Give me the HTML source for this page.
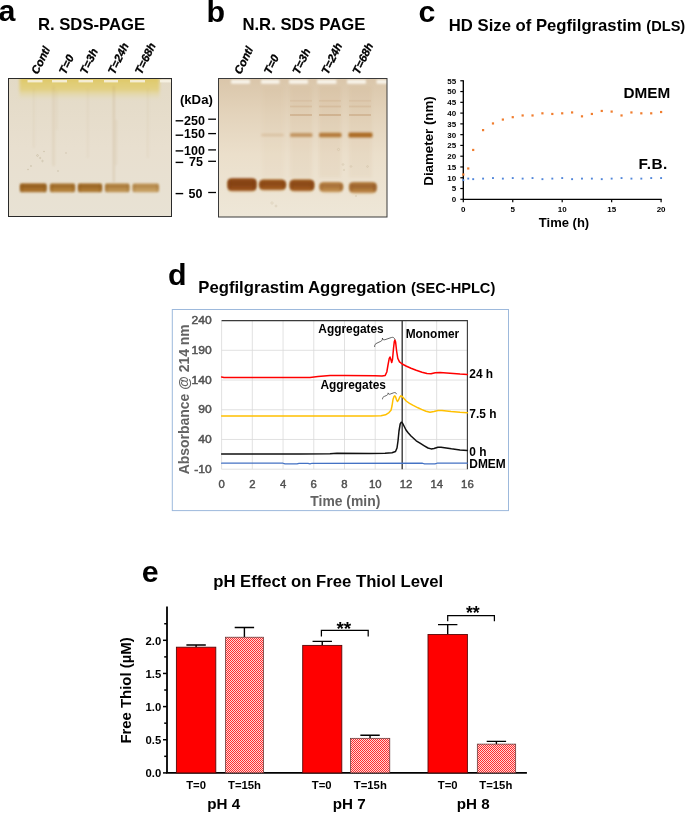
<!DOCTYPE html>
<html lang="en">
<head>
<meta charset="utf-8">
<title>Pegfilgrastim figure</title>
<style>
html,body{margin:0;padding:0;background:#fff;}
body{width:685px;height:813px;overflow:hidden;position:relative;}
svg{position:absolute;left:0;top:0;display:block;}
text{font-family:"Liberation Sans",sans-serif;font-weight:bold;}
.lbl{font-size:30.4px;}
.ttl{font-size:16.7px;}
.lane{font-size:11.3px;font-style:italic;stroke:#000;stroke-width:0.3px;}
.kda{font-size:12.5px;}
.ct{font-size:8px;}
.gr{fill:#595959;}
.reg{font-weight:normal;}
</style>
</head>
<body>
<svg width="685" height="813" viewBox="0 0 685 813">
<defs>
<filter id="b1" x="-150%" y="-100%" width="400%" height="300%"><feGaussianBlur stdDeviation="0.9"/></filter>
<filter id="b2" x="-150%" y="-100%" width="400%" height="300%"><feGaussianBlur stdDeviation="1.6"/></filter>
<filter id="b3" x="-150%" y="-100%" width="400%" height="300%"><feGaussianBlur stdDeviation="3"/></filter>
<filter id="b05" x="-150%" y="-100%" width="400%" height="300%"><feGaussianBlur stdDeviation="0.5"/></filter>
<linearGradient id="gA" x1="0" y1="0" x2="0" y2="1">
<stop offset="0" stop-color="#e3dac6"/><stop offset="0.5" stop-color="#e8dfcf"/><stop offset="1" stop-color="#e8e2d4"/>
</linearGradient>
<linearGradient id="gB" x1="0" y1="0" x2="0" y2="1">
<stop offset="0" stop-color="#dac6aa"/><stop offset="0.25" stop-color="#e3d3bb"/><stop offset="0.55" stop-color="#ebdfcb"/><stop offset="1" stop-color="#eee7d8"/>
</linearGradient>
<linearGradient id="gY" x1="0" y1="0" x2="0" y2="1">
<stop offset="0" stop-color="#dfc864"/><stop offset="0.55" stop-color="#e2cf7c" stop-opacity="0.9"/><stop offset="1" stop-color="#e6dcae" stop-opacity="0"/>
</linearGradient>
<pattern id="hatch" x="0" y="0" width="2" height="2" patternUnits="userSpaceOnUse">
<rect x="0" y="0" width="2" height="2" fill="#ffd6d6"/><rect x="0" y="0" width="1" height="1" fill="#ff2c2c"/><rect x="1" y="1" width="1" height="1" fill="#ff2c2c"/>
</pattern>
<clipPath id="cA"><rect x="8.5" y="78.5" width="163" height="138"/></clipPath>
<clipPath id="cB"><rect x="218.5" y="78.5" width="168.5" height="138.5"/></clipPath>
</defs>
<rect x="0" y="0" width="685" height="813" fill="#fff"/>
<g id="panel-a">
<text class="lbl" x="-1.6" y="21">a</text>
<text class="ttl" x="37.9" y="29.8">R. SDS-PAGE</text>
<text class="lane" transform="translate(37.8,74.9) rotate(-64)">Contl</text>
<text class="lane" transform="translate(65.5,74.9) rotate(-64)">T=0</text>
<text class="lane" transform="translate(86.5,74.9) rotate(-64)">T=3h</text>
<text class="lane" transform="translate(114.5,74.9) rotate(-64)">T=24h</text>
<text class="lane" transform="translate(141.5,74.9) rotate(-64)">T=68h</text>
<rect x="8.5" y="78.5" width="163" height="138" fill="url(#gA)"/>
<g clip-path="url(#cA)">
<rect x="19.5" y="77" width="140" height="23" fill="url(#gY)" filter="url(#b2)"/>
<rect x="27.5" y="80" width="15" height="2.4" fill="#f8f4e6" opacity="0.85" filter="url(#b05)"/>
<rect x="52" y="80" width="15" height="2.4" fill="#f8f4e6" opacity="0.85" filter="url(#b05)"/>
<rect x="78.5" y="80" width="14.5" height="2.4" fill="#f8f4e6" opacity="0.85" filter="url(#b05)"/>
<rect x="104" y="80" width="14" height="2.4" fill="#f8f4e6" opacity="0.85" filter="url(#b05)"/>
<rect x="130" y="80" width="15" height="2.4" fill="#f8f4e6" opacity="0.85" filter="url(#b05)"/>
<rect x="160" y="80" width="12" height="2.4" fill="#f8f4e6" opacity="0.85" filter="url(#b05)"/>
<rect x="33" y="88" width="1.6" height="60" fill="#a8824a" opacity="0.08" filter="url(#b1)"/>
<rect x="52.5" y="86" width="2.2" height="80" fill="#a8824a" opacity="0.13" filter="url(#b1)"/>
<rect x="56" y="90" width="1.4" height="40" fill="#a8824a" opacity="0.07" filter="url(#b1)"/>
<rect x="87" y="88" width="1.6" height="70" fill="#a8824a" opacity="0.07" filter="url(#b1)"/>
<rect x="113" y="86" width="1.6" height="96" fill="#a8824a" opacity="0.22" filter="url(#b1)"/>
<rect x="115.5" y="120" width="1.4" height="45" fill="#a8824a" opacity="0.12" filter="url(#b1)"/>
<rect x="147" y="88" width="1.6" height="70" fill="#a8824a" opacity="0.08" filter="url(#b1)"/>
<circle cx="37.5" cy="155.5" r="0.9" fill="none" stroke="#9a8a66" stroke-width="0.4" opacity="0.55"/><circle cx="40.2" cy="158" r="0.7" fill="none" stroke="#9a8a66" stroke-width="0.4" opacity="0.55"/><circle cx="42.5" cy="161" r="0.8" fill="none" stroke="#9a8a66" stroke-width="0.4" opacity="0.55"/><circle cx="31" cy="166" r="0.6" fill="none" stroke="#9a8a66" stroke-width="0.4" opacity="0.55"/><circle cx="28" cy="169.5" r="0.5" fill="none" stroke="#9a8a66" stroke-width="0.4" opacity="0.55"/><circle cx="58" cy="171" r="0.5" fill="none" stroke="#9a8a66" stroke-width="0.4" opacity="0.55"/><circle cx="44" cy="151.5" r="0.5" fill="none" stroke="#9a8a66" stroke-width="0.4" opacity="0.55"/><circle cx="66" cy="153" r="0.4" fill="none" stroke="#9a8a66" stroke-width="0.4" opacity="0.55"/>
<rect x="20" y="183.4" width="26.5" height="8.8" rx="3" fill="#a9722d" opacity="1.0" filter="url(#b1)"/>
<rect x="21" y="184.3" width="24.5" height="4" rx="1.5" fill="#8a5518" opacity="0.55" filter="url(#b1)"/>
<rect x="20.3" y="183.6" width="2.2" height="8.6" rx="1" fill="#8a5518" opacity="0.55" filter="url(#b1)"/>
<rect x="44" y="183.6" width="2.2" height="8.6" rx="1" fill="#8a5518" opacity="0.55" filter="url(#b1)"/>
<rect x="50" y="183.4" width="25" height="8.8" rx="3" fill="#b27f38" opacity="0.97" filter="url(#b1)"/>
<rect x="51" y="184.3" width="23" height="4" rx="1.5" fill="#8a5518" opacity="0.42" filter="url(#b1)"/>
<rect x="50.3" y="183.6" width="2.2" height="8.6" rx="1" fill="#8a5518" opacity="0.42" filter="url(#b1)"/>
<rect x="72.5" y="183.6" width="2.2" height="8.6" rx="1" fill="#8a5518" opacity="0.42" filter="url(#b1)"/>
<rect x="78" y="183.4" width="24" height="8.8" rx="3" fill="#ad7832" opacity="0.98" filter="url(#b1)"/>
<rect x="79" y="184.3" width="22" height="4" rx="1.5" fill="#8a5518" opacity="0.48" filter="url(#b1)"/>
<rect x="78.3" y="183.6" width="2.2" height="8.6" rx="1" fill="#8a5518" opacity="0.48" filter="url(#b1)"/>
<rect x="99.5" y="183.6" width="2.2" height="8.6" rx="1" fill="#8a5518" opacity="0.48" filter="url(#b1)"/>
<rect x="105" y="183.4" width="24.5" height="8.8" rx="3" fill="#bb8d49" opacity="0.93" filter="url(#b1)"/>
<rect x="106" y="184.3" width="22.5" height="4" rx="1.5" fill="#8a5518" opacity="0.32" filter="url(#b1)"/>
<rect x="105.3" y="183.6" width="2.2" height="8.6" rx="1" fill="#8a5518" opacity="0.32" filter="url(#b1)"/>
<rect x="127" y="183.6" width="2.2" height="8.6" rx="1" fill="#8a5518" opacity="0.32" filter="url(#b1)"/>
<rect x="132.5" y="183.4" width="26.5" height="8.8" rx="3" fill="#c39856" opacity="0.9" filter="url(#b1)"/>
<rect x="133.5" y="184.3" width="24.5" height="4" rx="1.5" fill="#8a5518" opacity="0.25" filter="url(#b1)"/>
<rect x="132.8" y="183.6" width="2.2" height="8.6" rx="1" fill="#8a5518" opacity="0.25" filter="url(#b1)"/>
<rect x="156.5" y="183.6" width="2.2" height="8.6" rx="1" fill="#8a5518" opacity="0.25" filter="url(#b1)"/>
</g>
<rect x="8.5" y="78.5" width="163" height="138" fill="none" stroke="#2a2a2a" stroke-width="1"/>
<text class="kda" style="font-size:13.2px" x="179.9" y="103.5">(kDa)</text>
<text class="kda" x="184" y="125.3">250</text>
<rect x="175.6" y="120.1" width="7.6" height="1.4" fill="#000"/>
<rect x="208.2" y="118.55" width="7.8" height="1.3" fill="#000"/>
<text class="kda" x="184" y="137.7">150</text>
<rect x="175.6" y="134.5" width="7.6" height="1.4" fill="#000"/>
<rect x="208.2" y="132.95" width="7.8" height="1.3" fill="#000"/>
<text class="kda" x="184" y="154.9">100</text>
<rect x="175.6" y="150.2" width="7.6" height="1.4" fill="#000"/>
<rect x="208.2" y="149.25" width="7.8" height="1.3" fill="#000"/>
<text class="kda" x="189" y="166.4">75</text>
<rect x="175.6" y="161.7" width="7.6" height="1.4" fill="#000"/>
<rect x="208.2" y="160.65" width="7.8" height="1.3" fill="#000"/>
<text class="kda" x="188.5" y="198.4">50</text>
<rect x="175.6" y="192.9" width="7.6" height="1.4" fill="#000"/>
<rect x="208.2" y="191.85" width="7.8" height="1.3" fill="#000"/>
</g>
<g id="panel-b">
<text class="lbl" x="206.6" y="21.7">b</text>
<text class="ttl" x="242.4" y="30.4">N.R. SDS PAGE</text>
<text class="lane" transform="translate(240.8,74.9) rotate(-64)">Contl</text>
<text class="lane" transform="translate(270.5,74.9) rotate(-64)">T=0</text>
<text class="lane" transform="translate(299,74.9) rotate(-64)">T=3h</text>
<text class="lane" transform="translate(328,74.9) rotate(-64)">T=24h</text>
<text class="lane" transform="translate(359,74.9) rotate(-64)">T=68h</text>
<rect x="218.5" y="78.5" width="168.5" height="138.5" fill="url(#gB)"/>
<g clip-path="url(#cB)">
<rect x="231" y="79.8" width="19" height="4" rx="1" fill="#f8f4ea" filter="url(#b1)"/>
<rect x="261" y="79.8" width="18.5" height="4" rx="1" fill="#f8f4ea" filter="url(#b1)"/>
<rect x="289" y="79.8" width="19" height="4" rx="1" fill="#f8f4ea" filter="url(#b1)"/>
<rect x="317" y="79.8" width="19.5" height="4" rx="1" fill="#f8f4ea" filter="url(#b1)"/>
<rect x="347" y="79.8" width="19" height="4" rx="1" fill="#f8f4ea" filter="url(#b1)"/>
<rect x="376.5" y="79.8" width="11.5" height="4" rx="1" fill="#f8f4ea" filter="url(#b1)"/>
<rect x="262" y="86" width="22" height="92" fill="#b98a55" opacity="0.03" filter="url(#b2)"/>
<rect x="290" y="86" width="22" height="92" fill="#b98a55" opacity="0.06" filter="url(#b2)"/>
<rect x="319" y="86" width="22" height="92" fill="#b98a55" opacity="0.07" filter="url(#b2)"/>
<rect x="349" y="86" width="23" height="92" fill="#b98a55" opacity="0.06" filter="url(#b2)"/>
<circle cx="338.5" cy="149.5" r="1.1" fill="none" stroke="#b9a888" stroke-width="0.4" opacity="0.6"/><circle cx="343" cy="164.5" r="0.9" fill="none" stroke="#b9a888" stroke-width="0.4" opacity="0.6"/><circle cx="351" cy="166.5" r="0.9" fill="none" stroke="#b9a888" stroke-width="0.4" opacity="0.6"/><circle cx="367.5" cy="166.5" r="0.9" fill="none" stroke="#b9a888" stroke-width="0.4" opacity="0.6"/><circle cx="344" cy="170" r="0.7" fill="none" stroke="#b9a888" stroke-width="0.4" opacity="0.6"/><circle cx="272" cy="203" r="1.2" fill="none" stroke="#b9a888" stroke-width="0.4" opacity="0.6"/><circle cx="276" cy="206" r="1.0" fill="none" stroke="#b9a888" stroke-width="0.4" opacity="0.6"/><circle cx="356" cy="196" r="0.7" fill="none" stroke="#b9a888" stroke-width="0.4" opacity="0.6"/>
<rect x="228.4" y="186.8" width="27.1" height="5" rx="4.5" fill="#cfa566" opacity="0.55" filter="url(#b2)"/>
<rect x="227.4" y="178.2" width="29.1" height="12.6" rx="4.5" fill="#96501a" opacity="1.0" filter="url(#b1)"/>
<rect x="229.4" y="180.2" width="25.1" height="6.6" rx="2.5" fill="#7a3a0a" opacity="0.6" filter="url(#b2)"/>
<rect x="252.9" y="179.4" width="3" height="10.2" rx="1.5" fill="#7a3a0a" opacity="0.6" filter="url(#b1)"/>
<rect x="228" y="179.4" width="3" height="10.2" rx="1.5" fill="#7a3a0a" opacity="0.42" filter="url(#b1)"/>
<rect x="260" y="185.8" width="25" height="5" rx="4.5" fill="#cfa566" opacity="0.55" filter="url(#b2)"/>
<rect x="259" y="179.6" width="27" height="10.2" rx="4.5" fill="#9c571c" opacity="0.98" filter="url(#b1)"/>
<rect x="261" y="181.6" width="23" height="4.2" rx="2.5" fill="#7a3a0a" opacity="0.52" filter="url(#b2)"/>
<rect x="282.4" y="180.8" width="3" height="7.8" rx="1.5" fill="#7a3a0a" opacity="0.52" filter="url(#b1)"/>
<rect x="259.6" y="180.8" width="3" height="7.8" rx="1.5" fill="#7a3a0a" opacity="0.364" filter="url(#b1)"/>
<rect x="290.5" y="186.8" width="22.8" height="5" rx="4.5" fill="#cfa566" opacity="0.55" filter="url(#b2)"/>
<rect x="289.5" y="179.6" width="24.8" height="11.2" rx="4.5" fill="#9c571c" opacity="0.97" filter="url(#b1)"/>
<rect x="291.5" y="181.6" width="20.8" height="5.2" rx="2.5" fill="#7a3a0a" opacity="0.52" filter="url(#b2)"/>
<rect x="310.7" y="180.8" width="3" height="8.8" rx="1.5" fill="#7a3a0a" opacity="0.52" filter="url(#b1)"/>
<rect x="290.1" y="180.8" width="3" height="8.8" rx="1.5" fill="#7a3a0a" opacity="0.364" filter="url(#b1)"/>
<rect x="320.2" y="187.6" width="22.1" height="5" rx="4.5" fill="#cfa566" opacity="0.55" filter="url(#b2)"/>
<rect x="319.2" y="182" width="24.1" height="9.6" rx="4.5" fill="#b98445" opacity="0.95" filter="url(#b1)"/>
<rect x="321.2" y="184" width="20.1" height="3.6" rx="2.5" fill="#7a3a0a" opacity="0.32" filter="url(#b2)"/>
<rect x="339.7" y="183.2" width="3" height="7.2" rx="1.5" fill="#7a3a0a" opacity="0.32" filter="url(#b1)"/>
<rect x="319.8" y="183.2" width="3" height="7.2" rx="1.5" fill="#7a3a0a" opacity="0.22399999999999998" filter="url(#b1)"/>
<rect x="350" y="188.6" width="25.8" height="5" rx="4.5" fill="#cfa566" opacity="0.55" filter="url(#b2)"/>
<rect x="349" y="182" width="27.8" height="10.6" rx="4.5" fill="#b37b3c" opacity="0.96" filter="url(#b1)"/>
<rect x="351" y="184" width="23.8" height="4.6" rx="2.5" fill="#7a3a0a" opacity="0.38" filter="url(#b2)"/>
<rect x="373.2" y="183.2" width="3" height="8.2" rx="1.5" fill="#7a3a0a" opacity="0.38" filter="url(#b1)"/>
<rect x="349.6" y="183.2" width="3" height="8.2" rx="1.5" fill="#7a3a0a" opacity="0.26599999999999996" filter="url(#b1)"/>
<rect x="261" y="133.75" width="23" height="2.5" rx="1.5" fill="#a9661f" opacity="0.18" filter="url(#b1)"/>
<rect x="290" y="133" width="22.5" height="4" rx="1.5" fill="#a9661f" opacity="0.55" filter="url(#b1)"/>
<rect x="319" y="132.7" width="22.5" height="4.6" rx="1.5" fill="#a9661f" opacity="0.8" filter="url(#b1)"/>
<rect x="348.5" y="132.4" width="24" height="5.2" rx="1.5" fill="#a9661f" opacity="0.95" filter="url(#b1)"/>
<rect x="290" y="114.1" width="22" height="1.8" fill="#a8703a" opacity="0.29" filter="url(#b05)"/>
<rect x="319" y="114.1" width="22" height="1.8" fill="#a8703a" opacity="0.32" filter="url(#b05)"/>
<rect x="349" y="114.1" width="22" height="1.8" fill="#a8703a" opacity="0.27" filter="url(#b05)"/>
<rect x="290" y="105.6" width="22" height="1.8" fill="#a8703a" opacity="0.14" filter="url(#b05)"/>
<rect x="319" y="105.6" width="22" height="1.8" fill="#a8703a" opacity="0.15" filter="url(#b05)"/>
<rect x="349" y="105.6" width="22" height="1.8" fill="#a8703a" opacity="0.13" filter="url(#b05)"/>
<rect x="290" y="99.9" width="22" height="1.8" fill="#a8703a" opacity="0.09" filter="url(#b05)"/>
<rect x="319" y="99.9" width="22" height="1.8" fill="#a8703a" opacity="0.1" filter="url(#b05)"/>
<rect x="349" y="99.9" width="22" height="1.8" fill="#a8703a" opacity="0.09" filter="url(#b05)"/>
</g>
<rect x="218.5" y="78.5" width="168.5" height="138.5" fill="none" stroke="#3a3a3a" stroke-width="1"/>
</g>
<g id="panel-c">
<text class="lbl" x="418.5" y="21.8">c</text>
<text class="ttl" x="448.8" y="30.9">HD Size of Pegfilgrastim <tspan font-size="14.6px">(DLS)</tspan></text>
<path d="M463.3 80.18 V199.3 H661.7" fill="none" stroke="#000" stroke-width="1.35"/>
<path d="M460.3 199.3H463.3" stroke="#000" stroke-width="1.2"/>
<text class="ct" text-anchor="end" x="456.1" y="202.2">0</text>
<path d="M460.3 188.53H463.3" stroke="#000" stroke-width="1.2"/>
<text class="ct" text-anchor="end" x="456.1" y="191.43">5</text>
<path d="M460.3 177.75H463.3" stroke="#000" stroke-width="1.2"/>
<text class="ct" text-anchor="end" x="456.1" y="180.65">10</text>
<path d="M460.3 166.98H463.3" stroke="#000" stroke-width="1.2"/>
<text class="ct" text-anchor="end" x="456.1" y="169.88">15</text>
<path d="M460.3 156.2H463.3" stroke="#000" stroke-width="1.2"/>
<text class="ct" text-anchor="end" x="456.1" y="159.1">20</text>
<path d="M460.3 145.43H463.3" stroke="#000" stroke-width="1.2"/>
<text class="ct" text-anchor="end" x="456.1" y="148.33">25</text>
<path d="M460.3 134.65H463.3" stroke="#000" stroke-width="1.2"/>
<text class="ct" text-anchor="end" x="456.1" y="137.55">30</text>
<path d="M460.3 123.88H463.3" stroke="#000" stroke-width="1.2"/>
<text class="ct" text-anchor="end" x="456.1" y="126.78">35</text>
<path d="M460.3 113.1H463.3" stroke="#000" stroke-width="1.2"/>
<text class="ct" text-anchor="end" x="456.1" y="116">40</text>
<path d="M460.3 102.33H463.3" stroke="#000" stroke-width="1.2"/>
<text class="ct" text-anchor="end" x="456.1" y="105.23">45</text>
<path d="M460.3 91.55H463.3" stroke="#000" stroke-width="1.2"/>
<text class="ct" text-anchor="end" x="456.1" y="94.45">50</text>
<path d="M460.3 80.78H463.3" stroke="#000" stroke-width="1.2"/>
<text class="ct" text-anchor="end" x="456.1" y="83.68">55</text>
<path d="M463.3 199.3V202.3" stroke="#000" stroke-width="1.2"/>
<text class="ct" text-anchor="middle" x="463.3" y="212.1">0</text>
<path d="M512.75 199.3V202.3" stroke="#000" stroke-width="1.2"/>
<text class="ct" text-anchor="middle" x="512.75" y="212.1">5</text>
<path d="M562.2 199.3V202.3" stroke="#000" stroke-width="1.2"/>
<text class="ct" text-anchor="middle" x="562.2" y="212.1">10</text>
<path d="M611.65 199.3V202.3" stroke="#000" stroke-width="1.2"/>
<text class="ct" text-anchor="middle" x="611.65" y="212.1">15</text>
<path d="M661.1 199.3V202.3" stroke="#000" stroke-width="1.2"/>
<text class="ct" text-anchor="middle" x="661.1" y="212.1">20</text>
<rect x="462.2" y="173.42" width="2.2" height="2.2" fill="#f07d2e"/>
<rect x="467.14" y="167.38" width="2.2" height="2.2" fill="#f07d2e"/>
<rect x="472.09" y="148.85" width="2.2" height="2.2" fill="#f07d2e"/>
<rect x="481.98" y="129.02" width="2.2" height="2.2" fill="#f07d2e"/>
<rect x="491.87" y="122.34" width="2.2" height="2.2" fill="#f07d2e"/>
<rect x="501.76" y="118.47" width="2.2" height="2.2" fill="#f07d2e"/>
<rect x="511.65" y="116.09" width="2.2" height="2.2" fill="#f07d2e"/>
<rect x="521.54" y="114.37" width="2.2" height="2.2" fill="#f07d2e"/>
<rect x="531.43" y="114.37" width="2.2" height="2.2" fill="#f07d2e"/>
<rect x="541.32" y="112.22" width="2.2" height="2.2" fill="#f07d2e"/>
<rect x="551.21" y="112.86" width="2.2" height="2.2" fill="#f07d2e"/>
<rect x="561.1" y="112.22" width="2.2" height="2.2" fill="#f07d2e"/>
<rect x="570.99" y="111.35" width="2.2" height="2.2" fill="#f07d2e"/>
<rect x="580.88" y="115.23" width="2.2" height="2.2" fill="#f07d2e"/>
<rect x="590.77" y="112.86" width="2.2" height="2.2" fill="#f07d2e"/>
<rect x="600.66" y="109.85" width="2.2" height="2.2" fill="#f07d2e"/>
<rect x="610.55" y="110.49" width="2.2" height="2.2" fill="#f07d2e"/>
<rect x="620.44" y="114.37" width="2.2" height="2.2" fill="#f07d2e"/>
<rect x="630.33" y="111.35" width="2.2" height="2.2" fill="#f07d2e"/>
<rect x="640.22" y="112.22" width="2.2" height="2.2" fill="#f07d2e"/>
<rect x="650.11" y="112.22" width="2.2" height="2.2" fill="#f07d2e"/>
<rect x="660" y="110.92" width="2.2" height="2.2" fill="#f07d2e"/>
<rect x="462.35" y="179.17" width="1.9" height="1.9" fill="#5186da"/>
<rect x="467.3" y="177.66" width="1.9" height="1.9" fill="#5186da"/>
<rect x="472.24" y="178.2" width="1.9" height="1.9" fill="#5186da"/>
<rect x="482.13" y="177.66" width="1.9" height="1.9" fill="#5186da"/>
<rect x="492.02" y="177.12" width="1.9" height="1.9" fill="#5186da"/>
<rect x="501.91" y="177.66" width="1.9" height="1.9" fill="#5186da"/>
<rect x="511.8" y="177.12" width="1.9" height="1.9" fill="#5186da"/>
<rect x="521.69" y="177.66" width="1.9" height="1.9" fill="#5186da"/>
<rect x="531.58" y="177.12" width="1.9" height="1.9" fill="#5186da"/>
<rect x="541.47" y="178.2" width="1.9" height="1.9" fill="#5186da"/>
<rect x="551.36" y="177.66" width="1.9" height="1.9" fill="#5186da"/>
<rect x="561.25" y="177.12" width="1.9" height="1.9" fill="#5186da"/>
<rect x="571.14" y="178.2" width="1.9" height="1.9" fill="#5186da"/>
<rect x="581.03" y="177.66" width="1.9" height="1.9" fill="#5186da"/>
<rect x="590.92" y="177.66" width="1.9" height="1.9" fill="#5186da"/>
<rect x="600.81" y="178.2" width="1.9" height="1.9" fill="#5186da"/>
<rect x="610.7" y="177.66" width="1.9" height="1.9" fill="#5186da"/>
<rect x="620.59" y="177.12" width="1.9" height="1.9" fill="#5186da"/>
<rect x="630.48" y="177.66" width="1.9" height="1.9" fill="#5186da"/>
<rect x="640.37" y="177.66" width="1.9" height="1.9" fill="#5186da"/>
<rect x="650.26" y="177.12" width="1.9" height="1.9" fill="#5186da"/>
<rect x="660.15" y="177.12" width="1.9" height="1.9" fill="#5186da"/>
<text font-size="15.3px" x="623.4" y="97.8">DMEM</text>
<text font-size="15.4px" letter-spacing="0.45" x="638.6" y="169.3">F.B.</text>
<text font-size="13px" text-anchor="middle" x="564" y="226.9">Time (h)</text>
<text font-size="13.3px" text-anchor="middle" transform="translate(433.2,141) rotate(-90)">Diameter (nm)</text>
</g>
<g id="panel-d">
<text class="lbl" x="168" y="284.6">d</text>
<text class="ttl" x="198.3" y="293.2">Pegfilgrastim Aggregation <tspan font-size="14.6px">(SEC-HPLC)</tspan></text>
<rect x="172.3" y="309.5" width="336.2" height="201.1" fill="#fff" stroke="#9db9dc" stroke-width="1"/>
<path d="M221.6 320.6V469.2" stroke="#d9d9d9" stroke-width="0.8"/>
<path d="M252.32 320.6V469.2" stroke="#d9d9d9" stroke-width="0.8"/>
<path d="M283.05 320.6V469.2" stroke="#d9d9d9" stroke-width="0.8"/>
<path d="M313.77 320.6V469.2" stroke="#d9d9d9" stroke-width="0.8"/>
<path d="M344.5 320.6V469.2" stroke="#d9d9d9" stroke-width="0.8"/>
<path d="M375.23 320.6V469.2" stroke="#d9d9d9" stroke-width="0.8"/>
<path d="M405.95 320.6V469.2" stroke="#d9d9d9" stroke-width="0.8"/>
<path d="M436.67 320.6V469.2" stroke="#d9d9d9" stroke-width="0.8"/>
<path d="M467.4 320.6V469.2" stroke="#d9d9d9" stroke-width="0.8"/>
<path d="M221.6 320.6H467.4" stroke="#d9d9d9" stroke-width="0.8"/>
<path d="M221.6 350.32H467.4" stroke="#d9d9d9" stroke-width="0.8"/>
<path d="M221.6 380.04H467.4" stroke="#d9d9d9" stroke-width="0.8"/>
<path d="M221.6 409.76H467.4" stroke="#d9d9d9" stroke-width="0.8"/>
<path d="M221.6 439.48H467.4" stroke="#d9d9d9" stroke-width="0.8"/>
<path d="M221.6 469.2H467.4" stroke="#d9d9d9" stroke-width="0.8"/>
<path d="M221.6 320.6H467.4V469.2" fill="none" stroke="#3a3a3a" stroke-width="1.1"/>
<path d="M402.2 320.6V469.2" stroke="#3a3a3a" stroke-width="1.4"/>
<text class="reg gr" font-size="11.2px" text-anchor="end" fill="#505050" stroke="#505050" stroke-width="0.5" transform="translate(211.7,324.1) scale(1.08,1)">240</text>
<text class="reg gr" font-size="11.2px" text-anchor="end" fill="#505050" stroke="#505050" stroke-width="0.5" transform="translate(211.7,353.82) scale(1.08,1)">190</text>
<text class="reg gr" font-size="11.2px" text-anchor="end" fill="#505050" stroke="#505050" stroke-width="0.5" transform="translate(211.7,383.54) scale(1.08,1)">140</text>
<text class="reg gr" font-size="11.2px" text-anchor="end" fill="#505050" stroke="#505050" stroke-width="0.5" transform="translate(211.7,413.26) scale(1.08,1)">90</text>
<text class="reg gr" font-size="11.2px" text-anchor="end" fill="#505050" stroke="#505050" stroke-width="0.5" transform="translate(211.7,442.98) scale(1.08,1)">40</text>
<text class="reg gr" font-size="11.2px" text-anchor="end" fill="#505050" stroke="#505050" stroke-width="0.5" transform="translate(211.7,472.7) scale(1.08,1)">-10</text>
<text class="reg" font-size="11.3px" text-anchor="middle" fill="#505050" stroke="#505050" stroke-width="0.45" x="221.6" y="487.9">0</text>
<text class="reg" font-size="11.3px" text-anchor="middle" fill="#505050" stroke="#505050" stroke-width="0.45" x="252.32" y="487.9">2</text>
<text class="reg" font-size="11.3px" text-anchor="middle" fill="#505050" stroke="#505050" stroke-width="0.45" x="283.05" y="487.9">4</text>
<text class="reg" font-size="11.3px" text-anchor="middle" fill="#505050" stroke="#505050" stroke-width="0.45" x="313.77" y="487.9">6</text>
<text class="reg" font-size="11.3px" text-anchor="middle" fill="#505050" stroke="#505050" stroke-width="0.45" x="344.5" y="487.9">8</text>
<text class="reg" font-size="11.3px" text-anchor="middle" fill="#505050" stroke="#505050" stroke-width="0.45" x="375.23" y="487.9">10</text>
<text class="reg" font-size="11.3px" text-anchor="middle" fill="#505050" stroke="#505050" stroke-width="0.45" x="405.95" y="487.9">12</text>
<text class="reg" font-size="11.3px" text-anchor="middle" fill="#505050" stroke="#505050" stroke-width="0.45" x="436.67" y="487.9">14</text>
<text class="reg" font-size="11.3px" text-anchor="middle" fill="#505050" stroke="#505050" stroke-width="0.45" x="467.4" y="487.9">16</text>
<text font-size="13.9px" text-anchor="middle" fill="#636363" x="345.3" y="505.6">Time (min)</text>
<text font-size="13.95px" fill="#636363" text-anchor="middle" transform="translate(188.6,399.3) rotate(-90)">Absorbance @ 214 nm</text>
<path d="M221.6 463.2 L283 463.2 L285 463.9 L297 463.9 L299 463.4 L308 463.4 L310 463.9 L312 463.3 L422.5 463.2 L424.5 463.9 L435 463.9 L437 463.2 L467.4 463.2" fill="none" stroke="#4472c4" stroke-width="1.2" stroke-linejoin="round" stroke-linecap="round"/>
<path d="M221.6 454 L300 454 L330 453.8 L337 453.2 L370 453.4 L385 453.2 L392 452.8 L395.5 451.5 L397 448 L398 441 L399 431 L400.2 424 L401.3 422.2 L402.5 423 L404 426 L406 430 L408.1 432.8 L411 436 L416.2 440.8 L420 443.2 L424.3 445.8 L428 448 L431.1 448.9 L434 448.5 L437.9 447.3 L441 447.2 L451.4 448.8 L460 449.9 L467.4 450.5" fill="none" stroke="#111" stroke-width="1.5" stroke-linejoin="round" stroke-linecap="round"/>
<path d="M221.6 415.9 L300 415.9 L372 415.9 L381 415.7 L385.5 414.8 L389 412.6 L391 410.3 L392 406 L393 399.5 L394 396.5 L394.8 395.8 L395.6 397 L396.6 400 L397.4 401.5 L398.5 400 L399.8 397 L400.9 395.8 L402.2 396.5 L404 398.6 L406.2 401 L409.5 403.3 L413.2 405.4 L418 407.8 L422 409.6 L426 411.3 L430 412.2 L434 411.4 L438 410.4 L442 410.6 L451 411.6 L460 412.3 L467.4 412.7" fill="none" stroke="#ffc000" stroke-width="1.5" stroke-linejoin="round" stroke-linecap="round"/>
<path d="M221.6 376.9 L224 377.4 L240 377.5 L310 377.4 L318 376.6 L330 375.5 L345 375.4 L375 375.8 L382 376.1 L385.2 375.4 L386.8 372 L388 365 L389.2 358.6 L390 357 L390.8 359.3 L391.7 362.6 L392.5 359.5 L393.5 348.5 L394.3 341.7 L394.9 339.9 L395.6 342 L396.6 351 L397.8 358.3 L399.5 361.8 L402.2 364 L406 366 L411 368.3 L416.2 370.3 L422 372.2 L427 373.5 L431 373.8 L435.2 372.8 L440 372.6 L450 373.3 L460 374.1 L467.4 374.5" fill="none" stroke="#ff0000" stroke-width="1.5" stroke-linejoin="round" stroke-linecap="round"/>
<text font-size="11.9px" x="318.3" y="333.2">Aggregates</text>
<text font-size="11.9px" x="320.5" y="389">Aggregates</text>
<text font-size="11.9px" x="405.7" y="337.5">Monomer</text>
<text font-size="11.9px" x="469.3" y="378.2">24 h</text>
<text font-size="11.9px" x="469.3" y="418.2">7.5 h</text>
<text font-size="11.9px" x="469.3" y="455.5">0 h</text>
<text font-size="11.9px" x="469.3" y="468.4">DMEM</text>
<path d="M374.6 346.6 C374.5 344.6 375.4 343.8 377 343.1 L380.8 341.3 C382.2 340.6 382.6 339.6 382.4 338 C382.8 339.7 383.5 340.2 385 339.7 L391.4 337.5 C393 337 394.3 337.5 394.8 339.2" fill="none" stroke="#333" stroke-width="0.75" stroke-linecap="round"/>
<path d="M382.5 398.9 C382.4 397.5 383.2 396.9 384.4 396.4 L386.8 395.3 C387.8 394.8 388.3 394.1 388.1 392.9 C388.5 394.1 389.1 394.5 390.2 394.1 L393.6 392.8 C395 392.3 396 392.6 396.5 393.8" fill="none" stroke="#333" stroke-width="0.75" stroke-linecap="round"/>
</g>
<g id="panel-e">
<text class="lbl" x="141.8" y="582.3">e</text>
<text font-size="16.7px" x="213.2" y="587.4">pH Effect on Free Thiol Level</text>
<path d="M167 607.4V772.9H526" fill="none" stroke="#000" stroke-width="1.8" stroke-linecap="square"/>
<path d="M163 772.9H167" stroke="#000" stroke-width="1.5"/>
<text font-size="11.3px" text-anchor="end" x="161.3" y="777.1">0.0</text>
<path d="M164.2 756.32H167" stroke="#000" stroke-width="1.5"/>
<path d="M163 739.75H167" stroke="#000" stroke-width="1.5"/>
<text font-size="11.3px" text-anchor="end" x="161.3" y="743.95">0.5</text>
<path d="M164.2 723.17H167" stroke="#000" stroke-width="1.5"/>
<path d="M163 706.6H167" stroke="#000" stroke-width="1.5"/>
<text font-size="11.3px" text-anchor="end" x="161.3" y="710.8">1.0</text>
<path d="M164.2 690.02H167" stroke="#000" stroke-width="1.5"/>
<path d="M163 673.45H167" stroke="#000" stroke-width="1.5"/>
<text font-size="11.3px" text-anchor="end" x="161.3" y="677.65">1.5</text>
<path d="M164.2 656.88H167" stroke="#000" stroke-width="1.5"/>
<path d="M163 640.3H167" stroke="#000" stroke-width="1.5"/>
<text font-size="11.3px" text-anchor="end" x="161.3" y="644.5">2.0</text>
<path d="M164.2 623.73H167" stroke="#000" stroke-width="1.5"/>
<text font-size="14.9px" text-anchor="middle" transform="translate(130.8,690.5) rotate(-90)">Free Thiol (&#181;M)</text>
<path d="M196.1 647.2V645M186.4 645H205.8" stroke="#000" stroke-width="1.4" fill="none"/>
<rect x="176.4" y="647.2" width="39.4" height="125.7" fill="#ff0000" stroke="#5a0808" stroke-width="0.9"/>
<path d="M244.4 637V627.5M234.7 627.5H254.1" stroke="#000" stroke-width="1.4" fill="none"/>
<rect x="225.4" y="637.2" width="38.2" height="135.7" fill="url(#hatch)" stroke="#5a3030" stroke-width="0.7"/>
<path d="M322.25 645.4V641.4M312.55 641.4H331.95" stroke="#000" stroke-width="1.4" fill="none"/>
<rect x="302.7" y="645.4" width="39.1" height="127.5" fill="#ff0000" stroke="#5a0808" stroke-width="0.9"/>
<path d="M370.05 738.1V735.2M360.35 735.2H379.75" stroke="#000" stroke-width="1.4" fill="none"/>
<rect x="350.5" y="738.3" width="39.3" height="34.6" fill="url(#hatch)" stroke="#5a3030" stroke-width="0.7"/>
<path d="M447.7 634.5V624.6M438 624.6H457.4" stroke="#000" stroke-width="1.4" fill="none"/>
<rect x="428" y="634.5" width="39.4" height="138.4" fill="#ff0000" stroke="#5a0808" stroke-width="0.9"/>
<path d="M496.4 743.9V741.4M486.7 741.4H506.1" stroke="#000" stroke-width="1.4" fill="none"/>
<rect x="477.3" y="744.1" width="38.4" height="28.8" fill="url(#hatch)" stroke="#5a3030" stroke-width="0.7"/>
<text font-size="11.3px" text-anchor="middle" x="196.1" y="789">T=0</text>
<text font-size="11.3px" text-anchor="middle" x="244.5" y="789">T=15h</text>
<text font-size="11.3px" text-anchor="middle" x="321.7" y="789">T=0</text>
<text font-size="11.3px" text-anchor="middle" x="370.3" y="789">T=15h</text>
<text font-size="11.3px" text-anchor="middle" x="447.7" y="789">T=0</text>
<text font-size="11.3px" text-anchor="middle" x="495.8" y="789">T=15h</text>
<text font-size="15.2px" text-anchor="middle" x="223.7" y="808.8">pH 4</text>
<text font-size="15.2px" text-anchor="middle" x="349.3" y="808.8">pH 7</text>
<text font-size="15.2px" text-anchor="middle" x="473.2" y="808.8">pH 8</text>
<path d="M321.4 636.4V630.3H368.2V636.4" fill="none" stroke="#000" stroke-width="1.25"/>
<text font-size="19px" text-anchor="middle" x="343.8" y="634.6">**</text>
<path d="M447.7 621.3V615.5H494.4V621.3" fill="none" stroke="#000" stroke-width="1.25"/>
<text font-size="17.8px" text-anchor="middle" x="472.8" y="618.9">**</text>
</g>
</svg>
</body>
</html>
